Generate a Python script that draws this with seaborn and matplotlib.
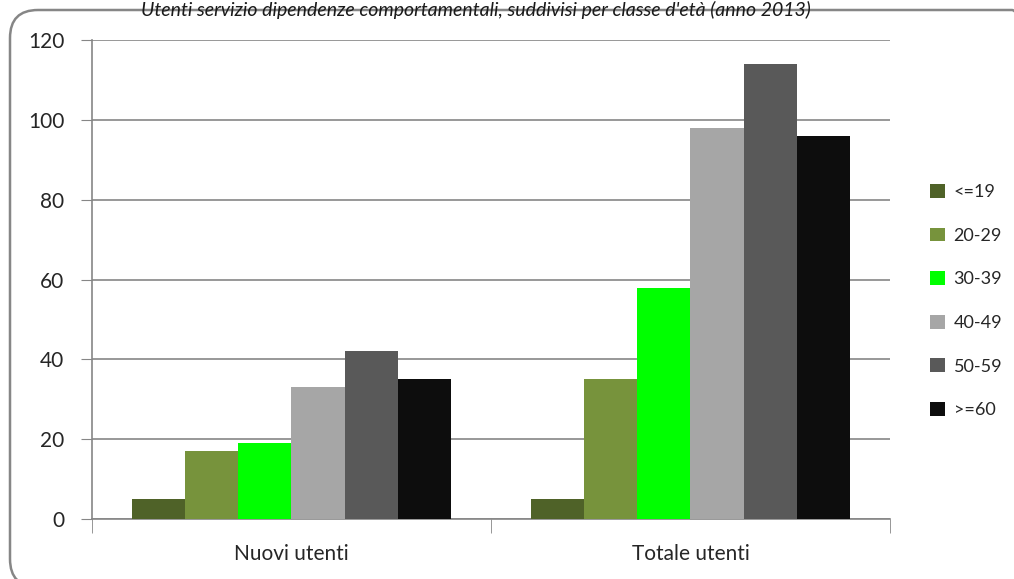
import numpy as np
import pandas as pd
import matplotlib
matplotlib.use("Agg")
import matplotlib.pyplot as plt
import seaborn as sns
from matplotlib.patches import FancyBboxPatch
from matplotlib.transforms import IdentityTransform

# data
categories = ["Nuovi utenti", "Totale utenti"]
age_classes = ["<=19", "20-29", "30-39", "40-49", "50-59", ">=60"]
nuovi = [5, 17, 19, 33, 42, 35]
totale = [5, 35, 58, 98, 114, 96]
colors = ["#4F6228", "#77933C", "#00FF00", "#A6A6A6", "#595959", "#0D0D0D"]

df = pd.DataFrame({
    "categoria": [categories[0]] * len(age_classes) + [categories[1]] * len(age_classes),
    "eta": age_classes * 2,
    "utenti": nuovi + totale,
})

sns.set_style("white")
plt.rcParams["font.family"] = ["Lato", "DejaVu Sans"]

fig = plt.figure(figsize=(10.14, 5.79), dpi=100)
ax = fig.add_axes([0.0907, 0.1036, 0.787, 0.827])

# rounded frame around the chart (pixel coords, partly off-canvas like the crop)
frame = FancyBboxPatch((10, -8), 1030, 569 + 8, boxstyle="round,pad=0,rounding_size=28",
                       transform=IdentityTransform(), fill=False, edgecolor="#868686", linewidth=1.8)
fig.patches.append(frame)

fig.text(0.80, 1 - 1 / 579, "Utenti servizio dipendenze comportamentali, suddivisi per classe d'età (anno 2013)",
         ha="right", va="top", fontsize=14, style="italic", color="#1a1a1a")

sns.barplot(data=df, x="categoria", y="utenti", hue="eta", hue_order=age_classes,
            palette=colors, width=0.8, saturation=1, linewidth=0, ax=ax, zorder=3)

ax.set_ylim(0, 120)
ax.set_yticks(np.arange(0, 121, 20))
ax.set_xlim(-0.5, 1.5)
ax.grid(axis="y", color="#868686", linewidth=1.2, zorder=0)
ax.set_axisbelow(True)
for s in ["top", "right"]:
    ax.spines[s].set_visible(False)
for s in ["left", "bottom"]:
    ax.spines[s].set_color("#868686")
    ax.spines[s].set_linewidth(1.2)

ax.tick_params(axis="y", direction="out", length=8, color="#868686", labelsize=15, pad=12, left=True)
ax.tick_params(axis="x", which="major", length=0, labelsize=15, pad=18)
ax.set_xticks([-0.5, 0.5, 1.5], minor=True)
ax.tick_params(axis="x", which="minor", direction="out", length=10, color="#868686", bottom=True)
ax.set_xlabel("")
ax.set_ylabel("")

leg = ax.legend(loc="center left", bbox_to_anchor=(1.03, 0.455), frameon=False, fontsize=13,
                handlelength=0.8, handleheight=0.8, handletextpad=0.5, labelspacing=1.52)

fig.savefig("out.png", dpi=100)
